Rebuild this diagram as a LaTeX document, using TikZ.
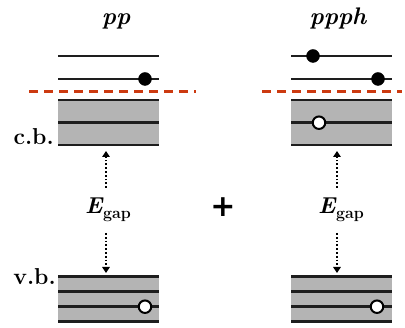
\documentclass[tikz,border=0pt]{standalone}
\usepackage{fontspec}
\newfontfamily\plusfont{DejaVu Sans}
\usetikzlibrary{arrows.meta}
\definecolor{bandgray}{HTML}{B4B4B4}
\definecolor{fermired}{HTML}{CC3A10}
\definecolor{linecol}{HTML}{1E1E1E}
\newcommand{\egaplabel}{\textit{E}\kern-0.5pt\raisebox{-5pt}{\fontsize{16}{18}\selectfont\bfseries gap}}
\begin{document}
\begin{tikzpicture}[x=1pt,y=-1pt,
  level/.style={draw=linecol,line width=2.6pt},
  band/.style={fill=bandgray,draw=none},
  fermi/.style={draw=fermired,line width=2.6pt,dash pattern=on 9pt off 6pt},
  electron/.style={circle,fill=black,draw=black,inner sep=0pt,minimum size=13pt},
  hole/.style={circle,fill=white,draw=black,line width=2pt,inner sep=0pt,minimum size=12.5pt},
  gaparrow/.style={draw=black,line width=1.8pt,dotted,-{Triangle[length=6pt,width=7.5pt]}},
  lbl/.style={font=\fontsize{23}{27}\selectfont\bfseries,inner sep=0pt},
  ttl/.style={font=\fontsize{24}{28}\selectfont\bfseries\itshape,inner sep=0pt}]
\useasboundingbox (0,0) rectangle (405,328);
\fill[white] (0,0) rectangle (405,328);

% ---------- left column (pp) ----------
\node[ttl,anchor=base] (tpp) at (116,25) {pp};
\draw[level] (58,56) -- (159,56);
\draw[level] (58,79) -- (159,79);
\node[electron] (e1) at (145,79) {};
\draw[fermi] (29,91.5) -- (196,91.5);
\fill[band] (58,100) rectangle (159,145);
\draw[level] (58,100) -- (159,100);
\draw[level] (58,122.7) -- (159,122.7);
\draw[level] (58,145) -- (159,145);
\node[lbl,anchor=base east] (cb) at (54,145) {c.b.};

\fill[band] (58,276.7) rectangle (159,321.7);
\draw[level] (58,276.7) -- (159,276.7);
\draw[level] (58,291.7) -- (159,291.7);
\draw[level] (58,306.7) -- (159,306.7);
\draw[level] (58,321.7) -- (159,321.7);
\node[hole] (h1) at (145,306.7) {};
\node[lbl,anchor=base east] (vb) at (56,285) {v.b.};

\node[lbl,anchor=base] (eg1) at (108,214) {\egaplabel};
\coordinate (a1t) at (106,151);
\coordinate (a1b) at (106,273);
\draw[gaparrow] (106,188) -- (a1t);
\draw[gaparrow] (106,233) -- (a1b);

% ---------- plus ----------
\node[font=\fontsize{30}{34}\selectfont\plusfont\bfseries,inner sep=0pt] (plus) at (223,207) {+};

% ---------- right column (ppph) ----------
\node[ttl,anchor=base] (tppph) at (338,25) {ppph};
\draw[level] (291,56) -- (392,56);
\draw[level] (291,79) -- (392,79);
\node[electron] (e2) at (313,56) {};
\node[electron] (e3) at (378,79) {};
\draw[fermi] (262,91.5) -- (402,91.5);
\fill[band] (291,100) rectangle (392,145);
\draw[level] (291,100) -- (392,100);
\draw[level] (291,122.7) -- (392,122.7);
\draw[level] (291,145) -- (392,145);
\node[hole] (h2) at (319,122.7) {};

\fill[band] (291,276.7) rectangle (392,321.7);
\draw[level] (291,276.7) -- (392,276.7);
\draw[level] (291,291.7) -- (392,291.7);
\draw[level] (291,306.7) -- (392,306.7);
\draw[level] (291,321.7) -- (392,321.7);
\node[hole] (h3) at (377,306.7) {};

\node[lbl,anchor=base] (eg2) at (341,214) {\egaplabel};
\coordinate (a2t) at (337,151);
\coordinate (a2b) at (337,273);
\draw[gaparrow] (337,188) -- (a2t);
\draw[gaparrow] (337,233) -- (a2b);
\end{tikzpicture}
\end{document}
